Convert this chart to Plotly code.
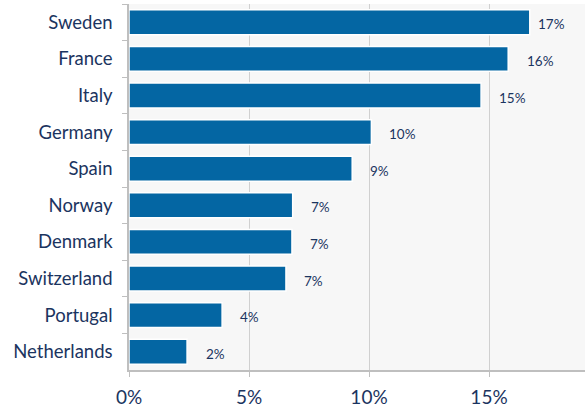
import plotly.graph_objects as go

countries = ["Sweden", "France", "Italy", "Germany", "Spain", "Norway",
             "Denmark", "Switzerland", "Portugal", "Netherlands"]
values = [16.7, 15.8, 14.67, 10.1, 9.3, 6.82, 6.79, 6.54, 3.88, 2.42]
labels = ["17%", "16%", "15%", "10%", "9%", "7%", "7%", "7%", "4%", "2%"]
label_shift = [6, 17, 16, 16, 16, 16, 16, 16, 16, 17]
x_ticks = [0, 5, 10, 15]
x_tick_text = ["0%", "5%", "10%", "15%"]

TEXT = "#1B3460"
FONT = "Lato"

fig = go.Figure()
fig.add_trace(go.Bar(
    y=countries, x=values, orientation="h",
    marker=dict(color="#0466A3", line=dict(color="white", width=1.5)),
    hoverinfo="skip",
))

for c, v, t, s in zip(countries, values, labels, label_shift):
    fig.add_annotation(x=v, y=c, text=t, showarrow=False, xanchor="left",
                       xshift=s, yshift=-2,
                       font=dict(family=FONT, size=13.5, color=TEXT))

fig.update_layout(
    width=585, height=407,
    margin=dict(l=129, r=0, t=4, b=37),
    paper_bgcolor="white", plot_bgcolor="#F7F7F7",
    bargap=0.32, showlegend=False,
    font=dict(family=FONT, color=TEXT),
)
fig.update_xaxes(
    range=[0, 19], tickvals=x_ticks, ticktext=x_tick_text,
    showgrid=True, gridcolor="#D0D0D0", gridwidth=1,
    showline=True, linecolor="#BFBFBF", linewidth=1.5,
    ticks="outside", ticklen=5, tickcolor="#BFBFBF",
    ticklabelstandoff=4,
    tickfont=dict(family=FONT, size=19, color=TEXT),
    zeroline=False, fixedrange=True,
)
fig.update_yaxes(
    categoryorder="array", categoryarray=countries, autorange="reversed",
    showline=True, linecolor="#BFBFBF", linewidth=1.5,
    ticks="outside", ticklen=5, tickcolor="#BFBFBF", tickson="boundaries",
    ticklabelstandoff=11,
    tickfont=dict(family=FONT, size=18.5, color=TEXT),
    showgrid=False, fixedrange=True,
)

fig.write_html("out.html", config={"displayModeBar": False})
